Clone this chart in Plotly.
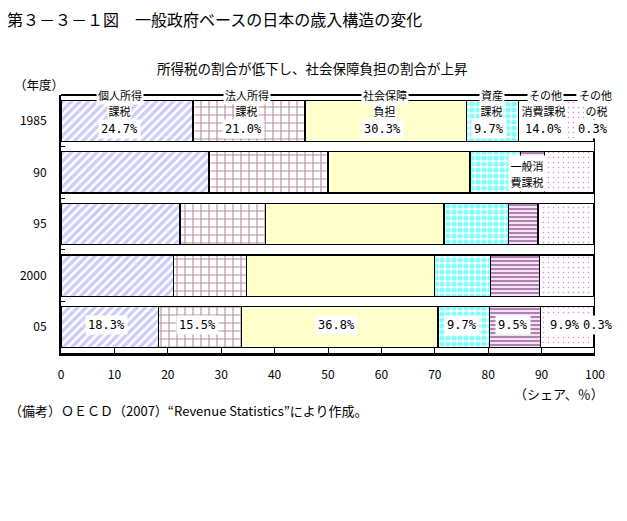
import plotly.graph_objects as go

# ---------------- data ----------------
years = ["1985", "90", "95", "2000", "05"]
series_names = ["個人所得課税", "法人所得課税", "社会保障負担", "資産課税",
                "一般消費課税", "その他消費課税", "その他の税"]
personal = [24.7, 27.7, 22.3, 21.1, 18.3]
corporate = [21.0, 22.3, 16.0, 13.7, 15.5]
social = [30.3, 26.6, 33.4, 35.1, 36.8]
assets = [9.7, 9.4, 12.1, 10.5, 9.7]
consumption = [0.0, 4.6, 5.5, 9.2, 9.5]
other_consumption = [14.0, 9.1, 10.4, 10.1, 9.9]
other_tax = [0.3, 0.3, 0.3, 0.3, 0.3]
x_tick_values = [0, 10, 20, 30, 40, 50, 60, 70, 80, 90, 100]

header_top = ["個人所得", "法人所得", "社会保障", "資産", "その他", "その他"]
header_bottom = ["課税", "課税", "負担", "課税", "消費課税", "の税"]
consumption_label = ["一般消", "費課税"]

title_text = "第３－３－１図　一般政府ベースの日本の歳入構造の変化"
subtitle_text = "所得税の割合が低下し、社会保障負担の割合が上昇"
note_text = "（備考）ＯＥＣＤ（2007）“Revenue Statistics”により作成。"

series = [personal, corporate, social, assets, consumption, other_consumption, other_tax]
ypos = list(range(len(years)))

# ---------------- styles ----------------
patterns = [
    dict(shape="/", fgcolor="#9999FF", bgcolor="white", size=6, solidity=0.55),
    dict(shape="+", fgcolor="#6E1845", bgcolor="white", size=8, solidity=0.26),
    None,
    dict(shape=".", fgcolor="#00FFFF", bgcolor="white", size=6, solidity=0.6),
    dict(shape="-", fgcolor="#660066", bgcolor="white", size=4, solidity=0.6),
    dict(shape=".", fgcolor="#CC00CC", bgcolor="white", size=5, solidity=0.07),
    dict(shape=".", fgcolor="#CC00CC", bgcolor="white", size=5, solidity=0.07),
]
base_colors = ["white", "white", "#FFFFCC", "white", "white", "white", "white"]

JP = "Noto Sans CJK JP"
MONO = "DejaVu Sans Mono"

fig = go.Figure()
for name, vals, pat, col in zip(series_names, series, patterns, base_colors):
    marker = dict(color=col, line=dict(color="black", width=1.3))
    if pat is not None:
        marker["pattern"] = pat
    fig.add_trace(go.Bar(
        y=ypos, x=vals, name=name, orientation="h", width=0.8,
        marker=marker, hoverinfo="x+name",
    ))

# The page body has an 8px margin, so the figure sits 8px right/down in the
# screenshot.  Screen geometry wanted: plot area x 61..595, y 95..353.
OFF = 8
W, H = 627 - OFF, 521 - OFF
L, T = 61 - OFF, 95 - OFF
R = W - (595 - OFF)
B = H - (353 - OFF)
PW, PH = W - L - R, H - T - B


def sx(px):
    """screen x pixel -> paper x"""
    return (px - OFF - L) / PW


def sy(py):
    """screen y pixel -> paper y"""
    return (H - B - (py - OFF)) / PH


annotations = []


def centers(row):
    out = []
    cum = 0.0
    for s in series:
        v = s[row]
        out.append(cum + v / 2)
        cum += v
    return out


# header labels over the 1985 bar (second line first, so the first line sits on top)
c85 = centers(0)
header_idx = [0, 1, 2, 3, 5, 6]
top_shift = [-7, -2, -1, -1, -11, 1]
bot_shift = [-7, -2, -1, -1, -13, 2]
for b, i, s2 in zip(header_bottom, header_idx, bot_shift):
    annotations.append(dict(
        x=c85[i], y=sy(110.5), xref="x", yref="paper", xshift=s2,
        yanchor="middle", xanchor="center",
        text=b, showarrow=False,
        font=dict(family=JP, size=11, color="black"),
        bgcolor="white", borderpad=0.5,
    ))
for t, i, s1 in zip(header_top, header_idx, top_shift):
    annotations.append(dict(
        x=c85[i], y=sy(95), xref="x", yref="paper", xshift=s1,
        yanchor="middle", xanchor="center",
        text=t, showarrow=False,
        font=dict(family=JP, size=11, color="black"),
        bgcolor="white", borderpad=1,
    ))

# value labels 1985
shift85 = [-7, -5, -3, -4, 0, -13, -1]
for i, s in enumerate(series):
    v = s[0]
    if v <= 0:
        continue
    annotations.append(dict(
        x=c85[i], y=ypos[0], xref="x", yref="y", xshift=shift85[i], yshift=-8.5,
        text=f"{v:.1f}%", showarrow=False,
        font=dict(family=MONO, size=12, color="black"),
        bgcolor="white", borderpad=2,
    ))

# value labels 2005
c05 = centers(4)
shift05 = [-3, -3, -3, -2, -2, -2, 4]
for i, s in enumerate(series):
    v = s[4]
    annotations.append(dict(
        x=c05[i], y=ypos[4], xref="x", yref="y", xshift=shift05[i], yshift=2,
        text=f"{v:.1f}%", showarrow=False,
        font=dict(family=MONO, size=12, color="black"),
        bgcolor="white", borderpad=2,
    ))

# consumption-tax label on the 1990 bar, two stacked boxes
c90 = centers(1)
for txt, ys, pad in zip(consumption_label, [6.5, -9.0], [1.5, 1.5]):
    annotations.append(dict(
        x=c90[4], y=ypos[1], xref="x", yref="y", xshift=-6, yshift=ys,
        text=txt, showarrow=False,
        font=dict(family=JP, size=11, color="black"),
        bgcolor="white", borderpad=pad,
    ))

# titles and notes
annotations += [
    dict(x=sx(6), y=sy(19), xref="paper", yref="paper",
         xanchor="left", yanchor="middle", text=title_text, showarrow=False,
         font=dict(family=JP, size=16, color="black"), borderpad=0),
    dict(x=sx(312), y=sy(68), xref="paper", yref="paper",
         xanchor="center", yanchor="middle", text=subtitle_text, showarrow=False,
         font=dict(family=JP, size=13.5, color="black")),
    dict(x=sx(12), y=sy(85), xref="paper", yref="paper",
         xanchor="left", yanchor="middle", text="（年度）", showarrow=False,
         font=dict(family=JP, size=12.5, color="black")),
    dict(x=sx(606), y=sy(393), xref="paper", yref="paper",
         xanchor="right", yanchor="middle", text="（シェア、％）", showarrow=False,
         font=dict(family=JP, size=13, color="black")),
    dict(x=sx(OFF), y=sy(410), xref="paper", yref="paper",
         xanchor="left", yanchor="middle", text=note_text, showarrow=False,
         font=dict(family=JP, size=13, color="black"), borderpad=0),
]

shapes = [
    # top connector line carrying the category headers
    dict(type="line", xref="x", yref="paper", x0=0, x1=96.5, y0=1, y1=1,
         line=dict(color="black", width=2)),
    # right frame line
    dict(type="line", xref="x", yref="y", x0=100, x1=100, y0=0.4, y1=4.5,
         line=dict(color="black", width=2)),
    # small leader marker for "その他の税"
    dict(type="rect", xref="x", yref="paper", x0=99.6, x1=100.2,
         y0=sy(121), y1=sy(117),
         fillcolor="black", line=dict(width=0)),
]

fig.update_layout(
    width=W, height=H,
    margin=dict(l=L, r=R, t=T, b=B, pad=0, autoexpand=False),
    barmode="stack",
    showlegend=False,
    plot_bgcolor="white", paper_bgcolor="white",
    font=dict(family=JP, size=12, color="black"),
    annotations=annotations,
    shapes=shapes,
    xaxis=dict(
        range=[0, 100], tickvals=x_tick_values, ticks="inside", ticklen=5,
        tickwidth=1, tickcolor="black", showline=True, linewidth=3, linecolor="black",
        showgrid=False, zeroline=False, ticklabelstandoff=9, automargin=False,
        tickfont=dict(family=JP, size=12, color="black"), fixedrange=True,
    ),
    yaxis=dict(
        range=[len(years) - 0.5, -0.5], tickvals=ypos, ticktext=years,
        ticks="", showline=True, linewidth=2, linecolor="black",
        showgrid=False, zeroline=False, ticklabelstandoff=10, automargin=False,
        tickfont=dict(family=JP, size=12, color="black"), fixedrange=True,
        minor=dict(tickvals=[p + 0.5 for p in ypos[:-1]], ticks="inside",
                   ticklen=4, tickwidth=1, tickcolor="black", showgrid=False),
    ),
)

fig.write_html("out.html")
